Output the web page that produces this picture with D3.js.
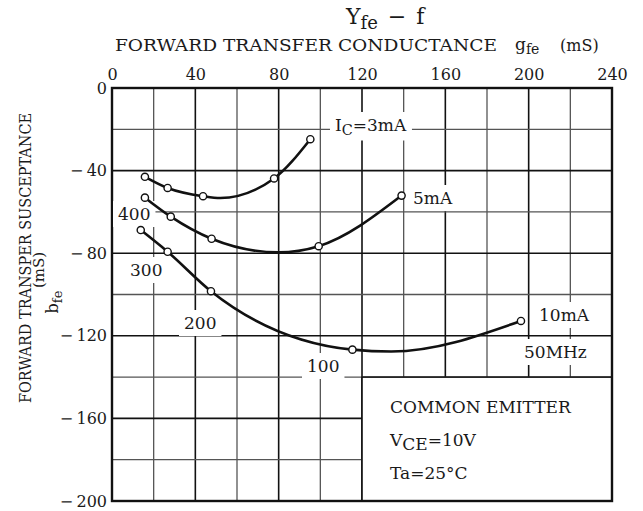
<!DOCTYPE html>
<html>
<head>
<meta charset="utf-8">
<script src="https://cdn.jsdelivr.net/npm/d3@7"></script>
<style>
  body { margin: 0; background: #fff; }
  svg text { font-family: "DejaVu Serif", "Liberation Serif", serif; fill: #1a1a1a; }
</style>
</head>
<body>
<div id="chart"></div>
<script>
// tick values of both axes
const xTicks = [0, 40, 80, 120, 160, 200, 240];
const yTicks = [0, -40, -80, -120, -160, -200];

const freqs = [400, 300, 200, 100, 50];
const ic3G = [15.8, 26.7, 43.7, 77.8, 95.2];
const ic3B = [-43.0, -48.4, -52.4, -43.8, -24.8];
const ic5G = [15.8, 28.2, 47.8, 99.2, 139.0];
const ic5B = [-53.1, -62.3, -73.0, -76.6, -52.1];
const ic10G = [13.8, 26.7, 47.5, 115.4, 196.3];
const ic10B = [-68.8, -79.3, -98.4, -126.7, -112.8];

// bottom of each drawn curve (between the markers)
const ic3Valley = [52, -53.3];
const ic5Valley = [80, -79.6];
const ic10Valley = [134, -127.6];

const width = 643;
const height = 511;

const svg = d3.select("#chart")
    .append("svg")
    .attr("width", width)
    .attr("height", height);

const x = d3.scaleLinear().domain([0, 240]).range([112, 612]);
const y = d3.scaleLinear().domain([0, -200]).range([88, 501]);

// grid, every 20 mS (the 40 ones darker)
const grid = svg.append("g");
d3.range(20, 240, 20).forEach((v) => {
    grid.append("line")
        .attr("x1", x(v)).attr("x2", x(v))
        .attr("y1", y(0)).attr("y2", y(-200))
        .attr("stroke", v % 40 === 0 ? "#111" : "#555")
        .attr("stroke-width", v % 40 === 0 ? 1.6 : 1.3);
});
d3.range(-20, -200, -20).forEach((v) => {
    grid.append("line")
        .attr("x1", x(0)).attr("x2", x(240))
        .attr("y1", y(v)).attr("y2", y(v))
        .attr("stroke", v % 40 === 0 ? "#111" : "#555")
        .attr("stroke-width", v % 40 === 0 ? 1.6 : 1.3);
});

// box for the conditions
svg.append("rect")
    .attr("x", x(120))
    .attr("y", y(-140))
    .attr("width", x(240) - x(120))
    .attr("height", y(-200) - y(-140))
    .attr("fill", "#fff")
    .attr("stroke", "#111")
    .attr("stroke-width", 1.6);

// frame
svg.append("rect")
    .attr("x", x(0))
    .attr("y", y(0))
    .attr("width", x(240) - x(0))
    .attr("height", y(-200) - y(0))
    .attr("fill", "none")
    .attr("stroke", "#111")
    .attr("stroke-width", 2.4);

// labels inside the plot get a white patch so the grid breaks round them
const labelLayer = svg.append("g");
function plotLabel(px, py, parts, size) {
    const t = labelLayer.append("text")
        .attr("x", px)
        .attr("y", py)
        .style("font-size", size + "px");
    parts.forEach((p) => {
        const s = t.append("tspan").text(p[0]);
        if (p[1]) s.attr("baseline-shift", "-25%").style("font-size", (size * 0.85) + "px");
    });
    const bb = t.node().getBBox();
    labelLayer.insert("rect", "text")
        .attr("x", bb.x - 5)
        .attr("y", bb.y - 3)
        .attr("width", bb.width + 10)
        .attr("height", bb.height + 6)
        .attr("fill", "#fff");
    return t;
}

// curves
const line = d3.line()
    .x(d => x(d[0]))
    .y(d => y(d[1]))
    .curve(d3.curveMonotoneX);

function curvePoints(gs, bs, valley) {
    const pts = gs.map((g, i) => [g, bs[i]]);
    pts.push(valley);
    return pts.sort((a, b) => a[0] - b[0]);
}

const series = [
    {g: ic3G, b: ic3B, valley: ic3Valley},
    {g: ic5G, b: ic5B, valley: ic5Valley},
    {g: ic10G, b: ic10B, valley: ic10Valley}
];

series.forEach((s) => {
    svg.append("path")
        .attr("d", line(curvePoints(s.g, s.b, s.valley)))
        .attr("fill", "none")
        .attr("stroke", "#111")
        .attr("stroke-width", 2.6);
});

series.forEach((s) => {
    svg.selectAll(null)
        .data(s.g.map((g, i) => ({g: g, b: s.b[i], f: freqs[i]})))
        .enter()
        .append("circle")
        .attr("cx", d => x(d.g))
        .attr("cy", d => y(d.b))
        .attr("r", 3.6)
        .attr("fill", "#fff")
        .attr("stroke", "#111")
        .attr("stroke-width", 1.4);
});

// curve labels
plotLabel(335, 131, [["I"], ["C", true], ["=3mA"]], 17);
plotLabel(413, 204, [["5mA"]], 17);
plotLabel(118, 220, [["400"]], 17);
plotLabel(130, 276, [["300"]], 17);
plotLabel(184, 329, [["200"]], 17);
plotLabel(307, 372, [["100"]], 17);
plotLabel(539, 321, [["10mA"]], 17);
plotLabel(524, 358, [["50MHz"]], 17);

// conditions
const cond = svg.append("g").style("font-size", "17px");
cond.append("text").attr("x", 390).attr("y", 413).text("COMMON EMITTER");
const vce = cond.append("text").attr("x", 390).attr("y", 446);
vce.append("tspan").text("V");
vce.append("tspan").attr("baseline-shift", "-25%").text("CE");
vce.append("tspan").text("=10V");
cond.append("text").attr("x", 390).attr("y", 479).text("Ta=25°C");

// axes (labels only)
const xAxis = svg.append("g")
    .attr("transform", `translate(0,${y(0) - 8})`)
    .call(d3.axisTop(x).tickValues(xTicks).tickSize(0).tickPadding(0));
xAxis.select(".domain").remove();
xAxis.selectAll("text").style("font-size", "16px").attr("fill", "#1a1a1a");

const yAxis = svg.append("g")
    .attr("transform", `translate(${x(0) - 5},0)`)
    .call(d3.axisLeft(y).tickValues(yTicks).tickSize(0).tickPadding(0)
        .tickFormat(d => d === 0 ? "0" : "\u2212\u2009" + Math.abs(d)));
yAxis.select(".domain").remove();
yAxis.selectAll("text").style("font-size", "16px").attr("fill", "#1a1a1a");

// titles
const title = svg.append("text")
    .attr("x", 346)
    .attr("y", 24)
    .style("font-size", "22px")
    .style("white-space", "pre");
title.append("tspan").text("Y");
title.append("tspan").attr("baseline-shift", "-30%").style("font-size", "18px").text("fe");
title.append("tspan").attr("baseline-shift", "0%").attr("dx", 10).text("\u2212");
title.append("tspan").attr("dx", 10).text("f");

svg.append("text")
    .attr("x", 115)
    .attr("y", 51)
    .attr("textLength", 382)
    .attr("lengthAdjust", "spacingAndGlyphs")
    .style("font-size", "17px")
    .text("FORWARD TRANSFER CONDUCTANCE");

const gfe = svg.append("text").attr("x", 515).attr("y", 50).style("font-size", "17px");
gfe.append("tspan").text("g");
gfe.append("tspan").attr("baseline-shift", "-30%").style("font-size", "14px").text("fe");
svg.append("text").attr("x", 560).attr("y", 51).style("font-size", "16px").text("(mS)");

svg.append("text")
    .attr("transform", "translate(31,258) rotate(-90)")
    .attr("text-anchor", "middle")
    .attr("textLength", 290)
    .attr("lengthAdjust", "spacingAndGlyphs")
    .style("font-size", "16px")
    .text("FORWARD TRANSPER SUSCEPTANCE");

svg.append("text")
    .attr("transform", "translate(44,270) rotate(-90)")
    .attr("text-anchor", "middle")
    .style("font-size", "15px")
    .text("(mS)");

const bfe = svg.append("text")
    .attr("transform", "translate(58,302) rotate(-90)")
    .attr("text-anchor", "middle")
    .style("font-size", "16px");
bfe.append("tspan").text("b");
bfe.append("tspan").attr("baseline-shift", "-30%").style("font-size", "13px").text("fe");
</script>
</body>
</html>
